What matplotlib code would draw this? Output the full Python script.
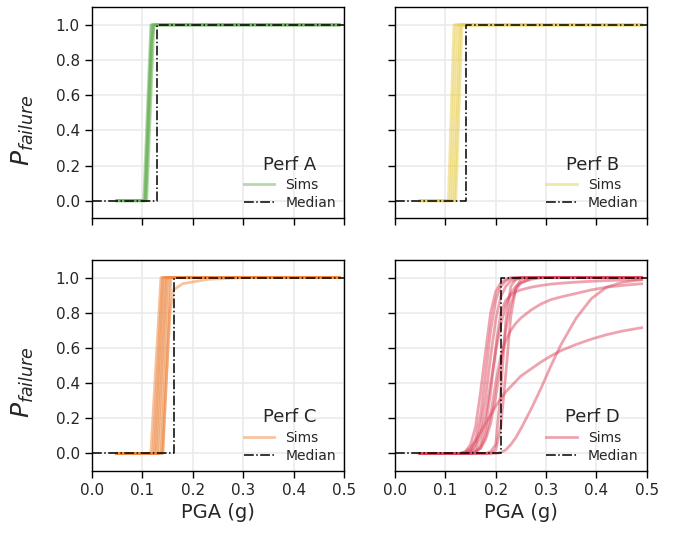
import matplotlib
matplotlib.use("Agg")
import matplotlib.pyplot as plt
import numpy as np

# ---------------- data ----------------
perf_names = ["Perf A", "Perf B", "Perf C", "Perf D"]
median_pga = [0.13, 0.142, 0.163, 0.21]

# Perf A simulations (x, y points)
simsA_x = [
    [0.05, 0.103, 0.117, 0.49],
    [0.05, 0.105, 0.119, 0.49],
    [0.05, 0.107, 0.121, 0.49],
    [0.05, 0.109, 0.123, 0.49],
    [0.05, 0.106, 0.112, 0.118, 0.124, 0.49],
]
simsA_y = [
    [0, 0, 1, 1],
    [0, 0, 1, 1],
    [0, 0, 1, 1],
    [0, 0, 1, 1],
    [0, 0, 0.5, 0.9, 1, 1],
]

# Perf B simulations
simsB_x = [
    [0.05, 0.106, 0.117, 0.49],
    [0.05, 0.110, 0.121, 0.49],
    [0.05, 0.114, 0.126, 0.49],
    [0.05, 0.118, 0.130, 0.49],
    [0.05, 0.121, 0.133, 0.49],
]
simsB_y = [
    [0, 0, 1, 1],
    [0, 0, 1, 1],
    [0, 0, 1, 1],
    [0, 0, 1, 1],
    [0, 0, 1, 1],
]

# Perf C simulations
simsC_x = [
    [0.05, 0.117, 0.137, 0.49],
    [0.05, 0.121, 0.140, 0.49],
    [0.05, 0.124, 0.142, 0.49],
    [0.05, 0.127, 0.145, 0.49],
    [0.05, 0.130, 0.148, 0.49],
    [0.05, 0.134, 0.150, 0.49],
    [0.05, 0.138, 0.154, 0.49],
    [0.05, 0.141, 0.157, 0.49],
    [0.05, 0.140, 0.155, 0.162, 0.180, 0.230, 0.300, 0.49],
]
simsC_y = [
    [0, 0, 1, 1],
    [0, 0, 1, 1],
    [0, 0, 1, 1],
    [0, 0, 1, 1],
    [0, 0, 1, 1],
    [0, 0, 1, 1],
    [0, 0, 1, 1],
    [0, 0, 1, 1],
    [0, 0, 0.80, 0.93, 0.965, 0.99, 1, 1],
]

# Perf D simulations (common PGA grid)
pgaD = [0.05, 0.13, 0.14, 0.15, 0.16, 0.17, 0.18, 0.19, 0.20, 0.21, 0.22, 0.23,
        0.24, 0.25, 0.27, 0.29, 0.31, 0.33, 0.36, 0.39, 0.42, 0.45, 0.49]
simsD_y = [
    [0, 0, 0.01, 0.05, 0.15, 0.35, 0.58, 0.80, 0.92, 0.97, 0.99, 1, 1, 1, 1, 1, 1, 1, 1, 1, 1, 1, 1],
    [0, 0, 0, 0.02, 0.08, 0.22, 0.45, 0.70, 0.87, 0.95, 0.98, 0.995, 1, 1, 1, 1, 1, 1, 1, 1, 1, 1, 1],
    [0, 0, 0, 0.01, 0.05, 0.15, 0.32, 0.55, 0.76, 0.89, 0.95, 0.98, 0.99, 1, 1, 1, 1, 1, 1, 1, 1, 1, 1],
    [0, 0, 0, 0.01, 0.03, 0.10, 0.22, 0.40, 0.58, 0.73, 0.84, 0.91, 0.95, 0.97, 0.99, 1, 1, 1, 1, 1, 1, 1, 1],
    [0, 0, 0, 0, 0.01, 0.05, 0.15, 0.35, 0.60, 0.80, 0.87, 0.90, 0.92, 0.93, 0.945, 0.955, 0.963, 0.968, 0.974, 0.979, 0.983, 0.986, 0.99],
    [0, 0, 0, 0, 0.01, 0.03, 0.10, 0.22, 0.40, 0.55, 0.64, 0.70, 0.74, 0.77, 0.815, 0.85, 0.875, 0.89, 0.91, 0.93, 0.945, 0.955, 0.965],
    [0, 0, 0.01, 0.03, 0.07, 0.12, 0.17, 0.22, 0.27, 0.31, 0.35, 0.38, 0.41, 0.44, 0.48, 0.52, 0.555, 0.585, 0.62, 0.65, 0.675, 0.695, 0.715],
    [0, 0, 0, 0, 0, 0, 0, 0, 0, 0.005, 0.02, 0.05, 0.09, 0.14, 0.25, 0.37, 0.50, 0.62, 0.77, 0.88, 0.945, 0.972, 0.988],
    [0, 0, 0, 0, 0, 0, 0, 0, 0.02, 0.15, 0.45, 0.78, 0.94, 0.99, 1, 1, 1, 1, 1, 1, 1, 1, 1],
    [0, 0, 0, 0, 0, 0, 0, 0.01, 0.05, 0.35, 0.75, 0.95, 0.99, 1, 1, 1, 1, 1, 1, 1, 1, 1, 1],
    [0, 0, 0, 0, 0.01, 0.03, 0.08, 0.17, 0.32, 0.50, 0.70, 0.85, 0.93, 0.97, 0.995, 1, 1, 1, 1, 1, 1, 1, 1],
]
simsD_x = [pgaD] * len(simsD_y)

sims_x = [simsA_x, simsB_x, simsC_x, simsD_x]
sims_y = [simsA_y, simsB_y, simsC_y, simsD_y]
colors = ["#6bb25a", "#e8cf50", "#ee8a45", "#dc4a60"]

x_ticks = [0.0, 0.1, 0.2, 0.3, 0.4, 0.5]
y_ticks = [0.0, 0.2, 0.4, 0.6, 0.8, 1.0]

# ---------------- plot ----------------
plt.rcParams["font.family"] = ["DejaVu Sans"]
fig = plt.figure(figsize=(6.75, 5.4), dpi=100)

W, H = 675, 540
lefts = [91.7, 395.0]
widths = [252.6, 251.7]
tops = [7.3, 260.0]
height = 211.0

for i in range(4):
    r, c = divmod(i, 2)
    ax = fig.add_axes([lefts[c] / W, 1 - (tops[r] + height) / H, widths[c] / W, height / H])
    for k, (xs, ys) in enumerate(zip(sims_x[i], sims_y[i])):
        ax.plot(xs, ys, color=colors[i], alpha=0.5, lw=2,
                label="Sims" if k == 0 else None, zorder=2)
    m = median_pga[i]
    ax.plot([0.0, m, m, 0.5], [0, 0, 1, 1], color="black", ls="-.", lw=1.1,
            label="Median", zorder=3)
    ax.set_xlim(0.0, 0.5)
    ax.set_ylim(-0.1, 1.1)
    ax.set_xticks(x_ticks)
    ax.set_yticks(y_ticks)
    ax.grid(True, color="#ebebeb", lw=1.2, zorder=0)
    ax.set_axisbelow(True)
    for s in ax.spines.values():
        s.set_color("black")
        s.set_linewidth(1.0)
    ax.tick_params(axis="both", direction="out", length=5, width=1, color="black",
                   labelsize=11, labelcolor="#262626")
    if r == 0:
        ax.tick_params(labelbottom=False)
    else:
        ax.set_xticklabels([f"{v:.1f}" for v in x_ticks])
        ax.set_xlabel("PGA (g)", fontsize=14, color="#262626")
    if c == 1:
        ax.tick_params(labelleft=False)
    else:
        ax.set_yticklabels([f"{v:.1f}" for v in y_ticks])
        ax.set_ylabel("$P_{failure}$", fontsize=18, color="#262626")
        ax.yaxis.set_label_coords(-0.22, 0.42)
    leg = ax.legend(loc="lower right", frameon=False, title=perf_names[i],
                    fontsize=10, title_fontsize=13, borderaxespad=0.2,
                    handlelength=2.2, labelspacing=0.3)
    for t in leg.get_texts():
        t.set_color("#262626")
    leg.get_title().set_color("#262626")

fig.savefig("out.png", dpi=100)
